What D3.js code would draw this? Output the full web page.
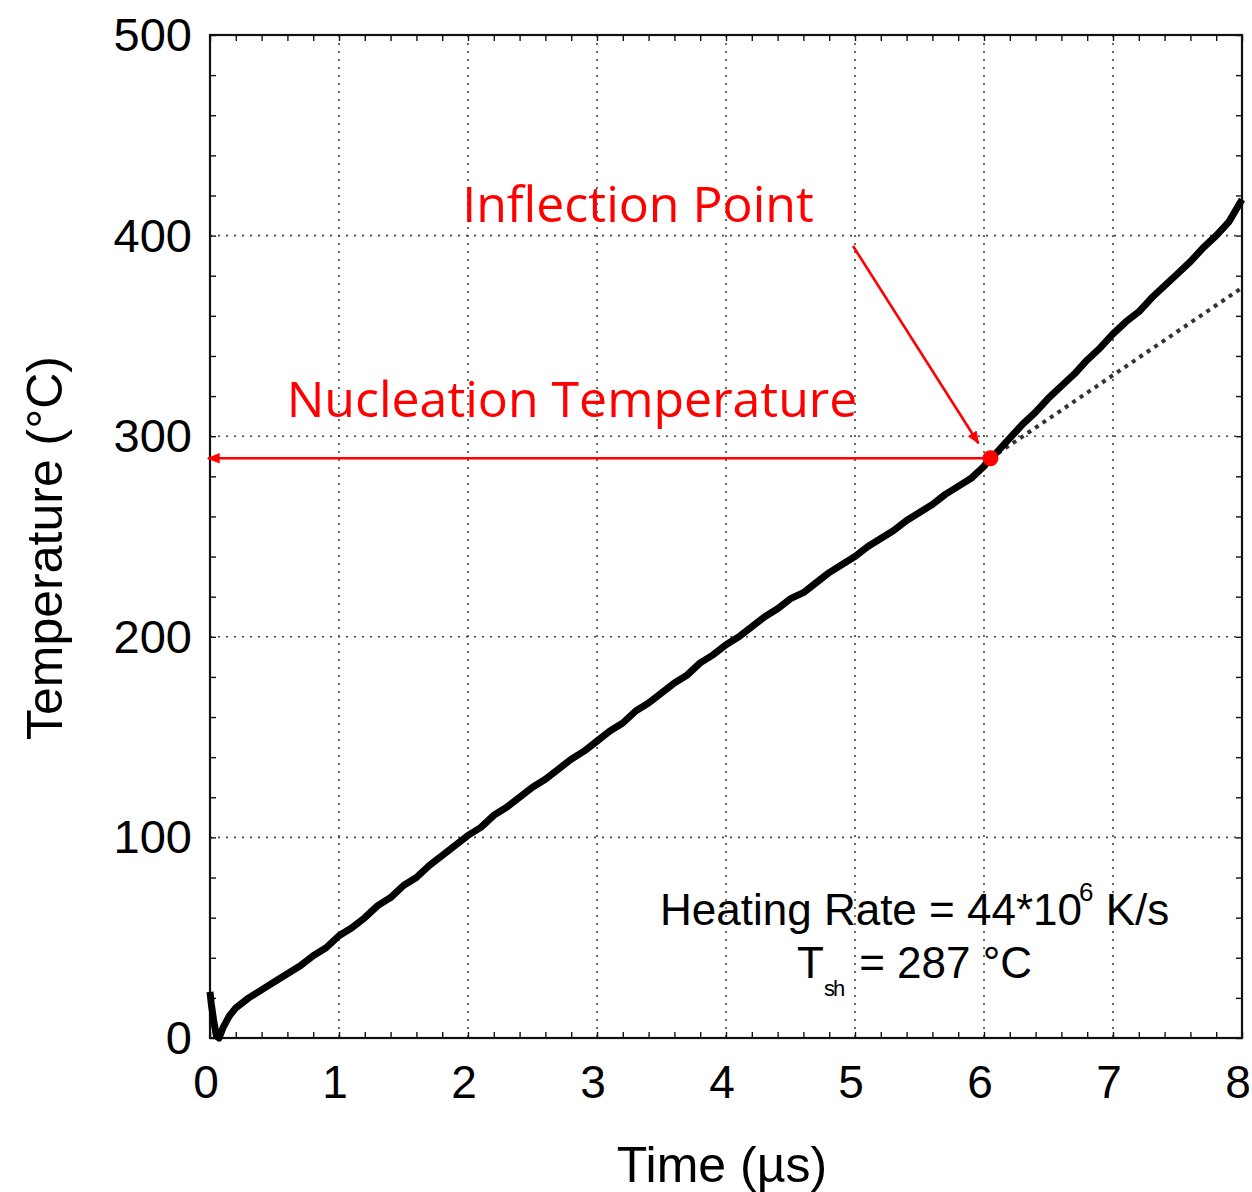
<!DOCTYPE html>
<html>
<head>
<meta charset="utf-8">
<script src="https://cdn.jsdelivr.net/npm/d3@7"></script>
<style>
  body { margin: 0; background: #fff; }
  svg text { font-family: "Liberation Sans", Arial, sans-serif; }
  .grid line { stroke: #444; stroke-width: 1.6; stroke-dasharray: 2,6; }
  svg text.red { fill: #f00; font-family: "Open Sans", "Noto Sans", sans-serif; }
</style>
</head>
<body>
<div id="chart"></div>
<script>
// measured trace, time in microseconds, temperature in degrees C
var times = [0, 0.01, 0.03, 0.05, 0.07, 0.1, 0.15, 0.2, 0.3, 0.4, 0.5, 0.6, 0.7, 0.8, 0.9, 1.0,
  1.1, 1.2, 1.3, 1.4, 1.5, 1.6, 1.7, 1.8, 1.9, 2.0,
  2.1, 2.2, 2.3, 2.4, 2.5, 2.6, 2.7, 2.8, 2.9, 3.0,
  3.1, 3.2, 3.3, 3.4, 3.5, 3.6, 3.7, 3.8, 3.9, 4.0,
  4.1, 4.2, 4.3, 4.4, 4.5, 4.6, 4.7, 4.8, 4.9, 5.0,
  5.1, 5.2, 5.3, 5.4, 5.5, 5.6, 5.7, 5.8, 5.9, 6.0, 6.05,
  6.1, 6.2, 6.3, 6.4, 6.5, 6.6, 6.7, 6.8, 6.9, 7.0,
  7.1, 7.2, 7.3, 7.4, 7.5, 7.6, 7.7, 7.8, 7.9, 8.0];
var temps = [23, 17, 8, 1, 0, 5, 11, 15, 20, 24, 28, 32, 36, 41, 45, 51,
  55, 60, 66, 70, 76, 80, 86, 91, 96, 101,
  105, 111, 115, 120, 125, 129, 134, 139, 143, 148,
  153, 157, 163, 167, 172, 177, 181, 187, 191, 196,
  200, 205, 210, 214, 219, 222, 227, 232, 236, 240,
  245, 249, 253, 258, 262, 266, 271, 275, 279, 285, 289,
  292, 299, 306, 312, 319, 325, 331, 338, 344, 351,
  357, 362, 369, 375, 381, 387, 394, 400, 407, 418];

// extrapolation of the pre-nucleation slope
var fitTimes = [6.05, 8.0];
var fitTemps = [289, 374];

var inflection = {t: 6.05, T: 289};

var xTicks = [0, 1, 2, 3, 4, 5, 6, 7, 8];
var yTicks = [0, 100, 200, 300, 400, 500];

var width = 1252, height = 1192;
var m = {left: 210, right: 1242, top: 35, bottom: 1038};

var x = d3.scaleLinear().domain([0, 8]).range([m.left, m.right]);
var y = d3.scaleLinear().domain([0, 500]).range([m.bottom, m.top]);

var svg = d3.select("#chart").append("svg")
  .attr("width", width)
  .attr("height", height);

// dotted grid
var grid = svg.append("g").attr("class", "grid");
grid.selectAll("line.gx")
  .data(xTicks.slice(1, -1))
  .enter().append("line")
  .attr("x1", d => x(d)).attr("x2", d => x(d))
  .attr("y1", m.top).attr("y2", m.bottom);
grid.selectAll("line.gy")
  .data(yTicks.slice(1, -1))
  .enter().append("line")
  .attr("y1", d => y(d)).attr("y2", d => y(d))
  .attr("x1", m.left).attr("x2", m.right);

// axes with inward ticks on all four sides
var minorX = d3.range(0, 8.001, 0.2);
var minorY = d3.range(0, 500.1, 20);

var axisStyle = function(g) {
  g.select(".domain").remove();
  g.selectAll("line").attr("stroke", "#111").attr("stroke-width", 1.4);
  g.selectAll("text").remove();
};

svg.append("g").attr("transform", "translate(0," + m.bottom + ")")
  .call(d3.axisTop(x).tickValues(minorX).tickSize(6)).call(axisStyle);
svg.append("g").attr("transform", "translate(0," + m.top + ")")
  .call(d3.axisBottom(x).tickValues(minorX).tickSize(6)).call(axisStyle);
svg.append("g").attr("transform", "translate(" + m.left + ",0)")
  .call(d3.axisRight(y).tickValues(minorY).tickSize(6)).call(axisStyle);
svg.append("g").attr("transform", "translate(" + m.right + ",0)")
  .call(d3.axisLeft(y).tickValues(minorY).tickSize(6)).call(axisStyle);

svg.append("rect")
  .attr("x", m.left).attr("y", m.top)
  .attr("width", m.right - m.left).attr("height", m.bottom - m.top)
  .attr("fill", "none").attr("stroke", "#111").attr("stroke-width", 2.2);

// tick labels
svg.selectAll("text.xt")
  .data(xTicks)
  .enter().append("text")
  .attr("x", d => x(d) - 4).attr("y", 1098)
  .attr("text-anchor", "middle")
  .attr("font-size", 46)
  .text(d => d);
svg.selectAll("text.yt")
  .data(yTicks)
  .enter().append("text")
  .attr("x", 192).attr("y", d => y(d) + 16)
  .attr("text-anchor", "end")
  .attr("font-size", 47)
  .text(d => d);

svg.append("text")
  .attr("x", 722).attr("y", 1182)
  .attr("text-anchor", "middle")
  .attr("font-size", 50)
  .text("Time (\u00b5s)");
svg.append("text")
  .attr("transform", "translate(62,548) rotate(-90)")
  .attr("text-anchor", "middle")
  .attr("font-size", 50)
  .text("Temperature (\u00b0C)");

// fitted extension (dotted)
var line = d3.line().x(d => x(d[0])).y(d => y(d[1]));
svg.append("path")
  .datum(d3.zip(fitTimes, fitTemps))
  .attr("d", line)
  .attr("fill", "none")
  .attr("stroke", "#333")
  .attr("stroke-width", 4)
  .attr("stroke-dasharray", "4,5");

// measured trace
svg.append("path")
  .datum(d3.zip(times, temps))
  .attr("d", line)
  .attr("fill", "none")
  .attr("stroke", "#000")
  .attr("stroke-width", 7)
  .attr("stroke-linejoin", "round");

// red annotations
var defs = svg.append("defs");
defs.append("marker")
  .attr("id", "head")
  .attr("viewBox", "0 0 10 10")
  .attr("refX", 9).attr("refY", 5)
  .attr("markerWidth", 5).attr("markerHeight", 5)
  .attr("orient", "auto")
  .attr("markerUnits", "strokeWidth")
  .append("path")
  .attr("d", "M0,1 L10,5 L0,9 Z")
  .attr("fill", "#f00");

svg.append("line")
  .attr("x1", x(inflection.t)).attr("y1", y(inflection.T))
  .attr("x2", m.left - 2).attr("y2", y(inflection.T))
  .attr("stroke", "#f00").attr("stroke-width", 2.6)
  .attr("marker-end", "url(#head)");

svg.append("line")
  .attr("x1", 853).attr("y1", 246)
  .attr("x2", x(inflection.t) - 12).attr("y2", y(inflection.T) - 15)
  .attr("stroke", "#f00").attr("stroke-width", 2.6)
  .attr("marker-end", "url(#head)");

svg.append("circle")
  .attr("cx", x(inflection.t)).attr("cy", y(inflection.T))
  .attr("r", 8).attr("fill", "#f00");

svg.append("text").attr("class", "red")
  .attr("x", 638).attr("y", 222)
  .attr("text-anchor", "middle")
  .attr("font-size", 50)
  .text("Inflection Point");
svg.append("text").attr("class", "red")
  .attr("x", 572).attr("y", 417)
  .attr("text-anchor", "middle")
  .attr("font-size", 50)
  .text("Nucleation Temperature");

// in-plot note
var note = svg.append("text")
  .attr("x", 660).attr("y", 925)
  .attr("font-size", 44);
note.append("tspan").text("Heating Rate = 44*10");
note.append("tspan").attr("font-size", 26).attr("dy", -24).attr("dx", -3).text("6");
note.append("tspan").attr("dy", 24).attr("dx", 0).text(" K/s");

var note2 = svg.append("text")
  .attr("x", 797).attr("y", 978)
  .attr("font-size", 44);
note2.append("tspan").text("T");
note2.append("tspan").attr("font-size", 22).attr("dy", 18).attr("letter-spacing", -2).text("sh");
note2.append("tspan").attr("dy", -18).attr("dx", 16).text("= 287 \u00b0C");
</script>
</body>
</html>
